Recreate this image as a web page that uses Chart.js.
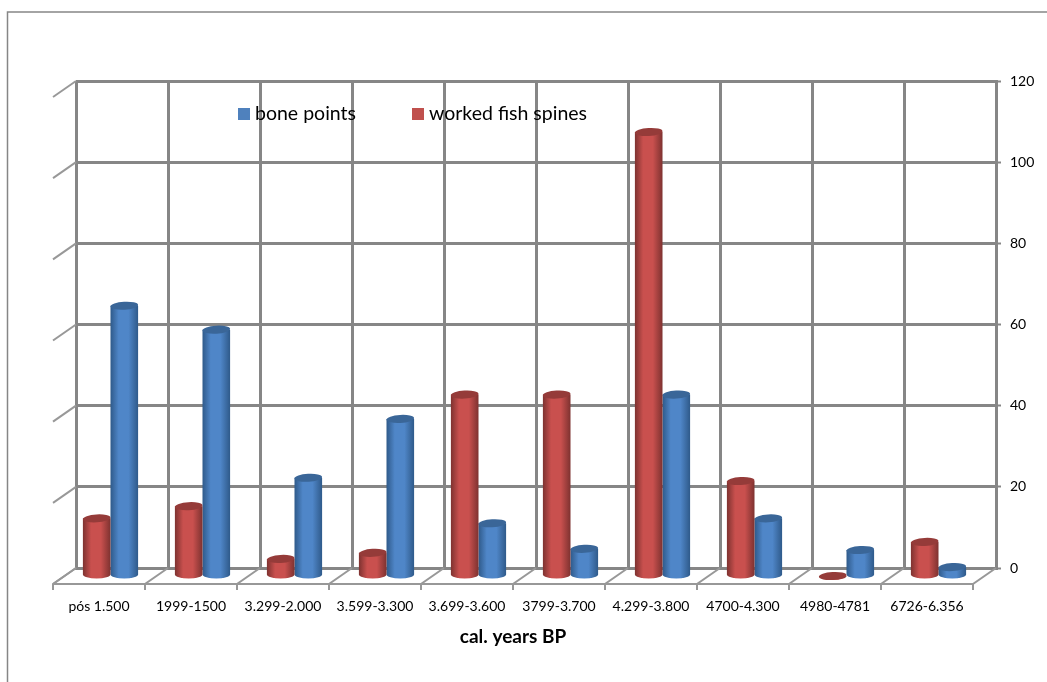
<!DOCTYPE html>
<html>
<head>
<meta charset="utf-8">
<title>cal. years BP</title>
<script src="https://cdn.jsdelivr.net/npm/chart.js@4"></script>
<style>
    html, body { margin: 0; padding: 0; background: #fff; }
    canvas { display: block; }
</style>
</head>
<body>
<canvas id="artefactChart" width="1047" height="682"></canvas>
<script>
// ------------------- DATA -------------------
const periods = ["pós 1.500", "1999-1500", "3.299-2.000", "3.599-3.300", "3.699-3.600",
                 "3799-3.700", "4.299-3.800", "4700-4.300", "4980-4781", "6726-6.356"];
const fishSpines = [14.2, 17.2, 4.2, 5.7, 44.7, 44.7, 109.4, 23.4, 0, 8.4];
const bonePoints = [66.6, 60.7, 24.2, 38.7, 13, 6.7, 44.7, 14.2, 6.4, 2.2];
const yTicks = [0, 20, 40, 60, 80, 100, 120];
const axisTitle = "cal. years BP";

// ------------------- STYLE -------------------
const FONT = "Lato, 'Open Sans', sans-serif";
const GRID = "#868686";
const DEPTH_X = 23;   // how far the floor runs to the left
const DEPTH_Y = 16;   // how far the floor runs down

const shades = {
    red:  { edge: "#7e3230", mid: "#c9504e", cap: "#953b39", flat: "#c0504d" },
    blue: { edge: "#2f5a8a", mid: "#4f86c8", cap: "#3a6698", flat: "#4f81bd" }
};

// ------------------- CYLINDERS -------------------
function drawCylinder(ctx, bar, shade) {
    const x = bar.x - DEPTH_X / 2;
    const top = bar.y + DEPTH_Y / 2;
    const bottom = bar.base + DEPTH_Y / 2;
    const rx = bar.width / 2;
    const ry = 4;
    const tilt = -0.06;

    const grad = ctx.createLinearGradient(x - rx, 0, x + rx, 0);
    grad.addColorStop(0, shade.edge);
    grad.addColorStop(0.3, shade.mid);
    grad.addColorStop(0.65, shade.mid);
    grad.addColorStop(1, shade.edge);

    ctx.fillStyle = grad;
    ctx.beginPath();
    ctx.moveTo(x - rx, top);
    ctx.lineTo(x - rx, bottom);
    ctx.ellipse(x, bottom, rx, ry, 0, Math.PI, 0, true);
    ctx.lineTo(x + rx, top);
    ctx.closePath();
    ctx.fill();

    ctx.fillStyle = shade.cap;
    ctx.beginPath();
    ctx.ellipse(x, top, rx, ry, tilt, 0, Math.PI * 2);
    ctx.fill();
}

const cylinderBars = {
    id: "cylinderBars",
    beforeDatasetDraw(chart, args) {
        const shade = chart.data.datasets[args.index].shade;
        args.meta.data.forEach(bar => drawCylinder(chart.ctx, bar, shade));
        return false;
    }
};

// ------------------- FLOOR AND SIDE WALL -------------------
const floorLines = {
    id: "floorLines",
    beforeDatasetsDraw(chart) {
        const { ctx, scales: { x, y } } = chart;
        const floorY = y.getPixelForValue(0);
        const step = (x.right - x.left) / periods.length;

        ctx.save();
        ctx.strokeStyle = "#989898";
        ctx.lineWidth = 2;

        // stubs on the left wall, one per tick
        yTicks.forEach(v => {
            const py = y.getPixelForValue(v);
            ctx.beginPath();
            ctx.moveTo(x.left, py);
            ctx.lineTo(x.left - DEPTH_X, py + DEPTH_Y);
            ctx.stroke();
        });

        // floor diagonals plus the small ticks under the front edge
        for (let i = 0; i <= periods.length; i++) {
            const bx = x.left + step * i;
            ctx.beginPath();
            ctx.moveTo(bx, floorY);
            ctx.lineTo(bx - DEPTH_X, floorY + DEPTH_Y);
            ctx.lineTo(bx - DEPTH_X, floorY + DEPTH_Y + 6);
            ctx.stroke();
        }

        ctx.beginPath();
        ctx.moveTo(x.left - DEPTH_X, floorY + DEPTH_Y);
        ctx.lineTo(x.right - DEPTH_X, floorY + DEPTH_Y);
        ctx.stroke();
        ctx.restore();
    }
};

// ------------------- FRAME, LEGEND, AXIS TITLE -------------------
const chartDecor = {
    id: "chartDecor",
    beforeDraw(chart) {
        const ctx = chart.ctx;
        ctx.save();
        ctx.fillStyle = "#fff";
        ctx.fillRect(0, 0, chart.width, chart.height);
        ctx.strokeStyle = GRID;
        ctx.lineWidth = 1.5;
        ctx.beginPath();
        ctx.moveTo(7.5, chart.height);
        ctx.lineTo(7.5, 12);
        ctx.lineTo(chart.width, 12);
        ctx.stroke();
        ctx.restore();
    },
    afterDraw(chart) {
        const ctx = chart.ctx;
        const sets = chart.data.datasets;
        ctx.save();
        ctx.textBaseline = "middle";

        // legend keys
        ctx.font = "19.5px " + FONT;
        ctx.fillStyle = sets[1].shade.flat;
        ctx.fillRect(238, 108, 12, 12);
        ctx.fillStyle = sets[0].shade.flat;
        ctx.fillRect(412, 108, 12, 12);
        ctx.fillStyle = "#000";
        ctx.fillText(sets[1].label, 255, 114);
        ctx.fillText(sets[0].label, 429, 114);

        ctx.font = "bold 19px " + FONT;
        ctx.textAlign = "center";
        ctx.fillText(axisTitle, 513, 637);
        ctx.restore();
    }
};

// ------------------- CHART SETUP -------------------
new Chart(document.getElementById("artefactChart").getContext("2d"), {
    type: "bar",
    data: {
        labels: periods,
        datasets: [
            { label: "worked fish spines", data: fishSpines, shade: shades.red, backgroundColor: shades.red.flat },
            { label: "bone points", data: bonePoints, shade: shades.blue, backgroundColor: shades.blue.flat }
        ]
    },
    plugins: [chartDecor, floorLines, cylinderBars],
    options: {
        responsive: false,
        animation: false,
        layout: { padding: { left: 76, top: 81, right: 0, bottom: 0 } },
        datasets: { bar: { barPercentage: 1, categoryPercentage: 0.6 } },
        plugins: {
            legend: { display: false },
            tooltip: { enabled: false }
        },
        scales: {
            x: {
                afterFit(scale) { scale.height = 114; },
                grid: { color: GRID, lineWidth: 3, drawTicks: false },
                border: { color: GRID, width: 3 },
                ticks: {
                    color: "#000",
                    font: { family: FONT, size: 14 },
                    labelOffset: -DEPTH_X,
                    padding: 30,
                    maxRotation: 0,
                    autoSkip: false
                }
            },
            y: {
                position: "right",
                min: 0,
                max: 120,
                afterFit(scale) { scale.width = 51; },
                afterBuildTicks(scale) { scale.ticks = yTicks.map(value => ({ value })); },
                grid: { color: GRID, lineWidth: 3, tickLength: 5, tickColor: GRID, tickWidth: 2 },
                border: { color: GRID, width: 3 },
                ticks: {
                    color: "#000",
                    font: { family: FONT, size: 14 },
                    padding: 9
                }
            }
        }
    }
});
</script>
</body>
</html>
